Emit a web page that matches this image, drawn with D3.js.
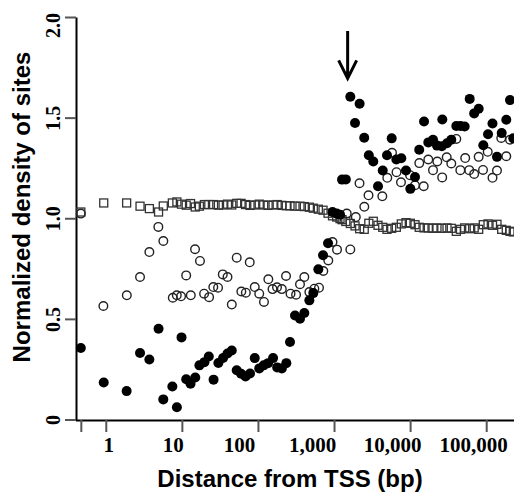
<!DOCTYPE html>
<html>
<head>
<meta charset="utf-8">
<script src="https://cdn.jsdelivr.net/npm/d3@7"></script>
<style>
  body { margin: 0; background: #fff; }
  svg { display: block; }
</style>
</head>
<body>
<script>
var svgWidth = 514;
var svgHeight = 492;

// Filled circles (distance in bp, normalized density)
var filledDist = [0.47, 0.94, 1.88, 2.82, 3.74, 4.94, 5.7, 7.5, 8.6, 9.9,
  11.4, 13, 15, 17, 19.8, 22.6, 26.1, 30.2, 34.8, 39.8,
  45.3, 52.6, 60, 68.7, 78.7, 90.8, 104, 119, 136, 158,
  179, 206, 236, 264, 307, 357, 407, 474, 534, 622,
  717, 834, 955, 1084, 1199, 1274, 1429, 1637, 2169, 1888,
  2494, 2865, 3281, 3785, 4365, 4970, 5728, 6589, 7660, 8832,
  10066, 11595, 13174, 15240, 17350, 20000, 22550, 26100, 26500, 30550,
  34770, 40460, 45920, 52120, 60680, 69520, 79660, 91620, 105700, 121000,
  138600, 159900, 183700, 205500, 227000];
var filledVal = [0.355, 0.184, 0.141, 0.33, 0.298, 0.451, 0.10, 0.164, 0.061, 0.408,
  0.20, 0.178, 0.209, 0.269, 0.285, 0.313, 0.198, 0.281, 0.306, 0.328,
  0.343, 0.245, 0.227, 0.214, 0.229, 0.305, 0.254, 0.269, 0.28, 0.305,
  0.259, 0.254, 0.28, 0.385, 0.517, 0.501, 0.529, 0.592, 0.628, 0.746,
  0.816, 0.876, 1.031, 1.023, 1.018, 1.192, 1.193, 1.604, 1.569, 1.473,
  1.40, 1.313, 1.282, 1.159, 1.237, 1.313, 1.397, 1.292, 1.298, 1.237,
  1.146, 1.205, 1.34, 1.481, 1.377, 1.39, 1.361, 1.358, 1.491, 1.373,
  1.39, 1.458, 1.458, 1.456, 1.593, 1.521, 1.544, 1.363, 1.417, 1.471,
  1.305, 1.423, 1.489, 1.587, 1.397];

// Open circles
var openDist = [0.47, 0.93, 1.89, 2.82, 3.74, 4.91, 5.71, 7.6, 8.57, 9.76,
  11.4, 13.1, 14.9, 17.3, 19.6, 22.8, 25.9, 29.9, 34.5, 39.8,
  45.3, 52.6, 60.5, 69.3, 78, 90.8, 104, 120, 137, 155.5,
  178, 206, 234, 268, 317, 357, 407, 474, 551, 635,
  723, 841, 955, 1095, 1469, 1637, 1933, 2163, 2500, 2839,
  4313, 5012, 5781, 6627, 7586, 9977, 11590, 13210, 15090, 17340,
  20000, 22770, 26400, 30270, 34770, 40460, 45710, 52970, 59840, 69520,
  79660, 90780, 104700, 121000, 138600, 157800, 183700, 205500];
var openVal = [1.023, 0.564, 0.617, 0.708, 0.832, 0.957, 0.887, 0.605, 0.617, 0.612,
  0.716, 0.617, 0.846, 0.788, 0.625, 0.608, 0.658, 0.655, 0.721, 0.708,
  0.571, 0.804, 0.636, 0.630, 0.781, 0.658, 0.625, 0.584, 0.697, 0.648,
  0.657, 0.648, 0.713, 0.625, 0.620, 0.672, 0.708, 0.633, 0.650, 0.655,
  0.738, 0.79, 0.882, 0.844, 1.023, 0.845, 1.006, 1.174, 1.057, 1.114,
  1.109, 1.201, 1.325, 1.229, 1.179, 1.214, 1.164, 1.274, 1.159, 1.292,
  1.239, 1.282, 1.203, 1.303, 1.272, 1.394, 1.239, 1.299, 1.239, 1.22,
  1.305, 1.24, 1.33, 1.201, 1.237, 1.399, 1.308, 1.39];

// Open squares
var sqDist = [0.47, 0.94, 1.88, 2.82, 3.74, 4.94, 5.7, 7.5, 8.6, 9.9,
  11.4, 13, 15, 17, 19.8, 22.6, 26.1, 30.2, 34.8, 39.8,
  45.3, 52.6, 60, 68.7, 78.7, 90.8, 104, 119, 136, 158,
  179, 206, 236, 264, 307, 357, 407, 474, 534, 622,
  717, 834, 955, 1084, 1199, 1274, 1429, 1637, 1888, 2169,
  2494, 2865, 3281, 3785, 4365, 4970, 5728, 6589, 7660, 8832,
  10066, 11595, 13174, 15240, 17350, 20000, 22550, 26100, 30550, 34770,
  40460, 45920, 52120, 60680, 69520, 79660, 91620, 105700, 121000, 138600,
  159900, 183700, 205500, 227000];
var sqVal = [1.031, 1.076, 1.076, 1.06, 1.048, 1.031, 1.061, 1.076, 1.081, 1.07,
  1.065, 1.073, 1.056, 1.06, 1.068, 1.068, 1.068, 1.065, 1.066, 1.07,
  1.066, 1.074, 1.074, 1.068, 1.064, 1.066, 1.07, 1.066, 1.064, 1.066,
  1.068, 1.064, 1.062, 1.062, 1.06, 1.06, 1.058, 1.055, 1.05, 1.045,
  1.04, 1.025, 1.012, 1.006, 0.998, 0.993, 0.984, 0.974, 0.962, 0.948,
  0.945, 0.975, 0.985, 0.965, 0.955, 0.945, 0.95, 0.955, 0.972, 0.978,
  0.975, 0.968, 0.955, 0.952, 0.952, 0.95, 0.952, 0.95, 0.952, 0.95,
  0.935, 0.945, 0.952, 0.948, 0.952, 0.945, 0.968, 0.972, 0.965, 0.97,
  0.945, 0.94, 0.935, 0.932];

var xTickValues = [0.47, 1, 10, 100, 1000, 10000, 100000];
var xTickLabels = ["", "1", "10", "100", "1,000", "10,000", "100,000"];
var yTickValues = [0, 0.5, 1, 1.5, 2];
var yTickLabels = ["0", "0.5", "1.0", "1.5", "2.0"];

// the original labels sit a little left of their ticks
var xLabelShift = [0, 2.5, -9, -19, -22, -18, -13];

var arrowAt = 1510;

var svg = d3.select("body")
  .append("svg")
  .attr("width", svgWidth)
  .attr("height", svgHeight);

var x = d3.scaleLog().domain([0.4, 300000]).range([75.5, 522.5]);
var y = d3.scaleLinear().domain([0, 2]).range([419.5, 17]);

// axes
var xAxis = svg.append("g")
  .attr("transform", "translate(0,420)")
  .call(d3.axisBottom(x)
    .tickValues(xTickValues)
    .tickFormat(function(d, i) { return xTickLabels[i]; })
    .tickSize(12)
    .tickSizeOuter(0));

xAxis.select(".domain").attr("stroke", "#000").attr("stroke-width", 2);
xAxis.selectAll(".tick line").attr("stroke", "#555").attr("stroke-width", 2);
xAxis.selectAll(".tick text")
  .attr("x", function(d, i) { return xLabelShift[i]; })
  .attr("y", 32)
  .attr("dy", null)
  .attr("fill", "#000")
  .style("font-family", "'Liberation Serif', 'Times New Roman', serif")
  .style("font-weight", "bold")
  .style("font-size", "21px");

var yAxis = svg.append("g")
  .attr("transform", "translate(76,0)")
  .call(d3.axisLeft(y)
    .tickValues(yTickValues)
    .tickFormat(function(d, i) { return yTickLabels[i]; })
    .tickSize(11)
    .tickSizeOuter(0));

yAxis.select(".domain").attr("stroke", "#000").attr("stroke-width", 2);
yAxis.selectAll(".tick line").attr("stroke", "#555").attr("stroke-width", 2);
yAxis.selectAll(".tick text")
  .attr("x", null)
  .attr("dy", null)
  .attr("text-anchor", "middle")
  .attr("transform", function(d) { return "translate(-16," + (d === 2 ? 8 : 0) + ") rotate(-90)"; })
  .attr("fill", "#000")
  .style("font-family", "'Liberation Serif', 'Times New Roman', serif")
  .style("font-weight", "bold")
  .style("font-size", "20px");

// squares
svg.append("g")
  .selectAll("rect")
  .data(sqDist)
  .enter()
  .append("rect")
  .attr("x", function(d) { return x(d) - 4; })
  .attr("y", function(d, i) { return y(sqVal[i]) - 4; })
  .attr("width", 8)
  .attr("height", 8)
  .attr("fill", "none")
  .attr("stroke", "#333")
  .attr("stroke-width", 1.3);

// open circles
svg.append("g")
  .selectAll("circle")
  .data(openDist)
  .enter()
  .append("circle")
  .attr("cx", function(d) { return x(d); })
  .attr("cy", function(d, i) { return y(openVal[i]); })
  .attr("r", 4.3)
  .attr("fill", "none")
  .attr("stroke", "#222")
  .attr("stroke-width", 1.4);

// filled circles
svg.append("g")
  .selectAll("circle")
  .data(filledDist)
  .enter()
  .append("circle")
  .attr("cx", function(d) { return x(d); })
  .attr("cy", function(d, i) { return y(filledVal[i]); })
  .attr("r", 5)
  .attr("fill", "#000");

// arrow
var ax = x(arrowAt);
var tipY = y(1.695);
svg.append("path")
  .attr("d", "M" + ax + "," + y(1.93) + "V" + tipY +
    "M" + (ax - 9) + "," + (tipY - 18) + "L" + ax + "," + tipY + "L" + (ax + 9) + "," + (tipY - 18))
  .attr("fill", "none")
  .attr("stroke", "#000")
  .attr("stroke-width", 3);

// axis titles
svg.append("text")
  .attr("transform", "translate(30,207) rotate(-90)")
  .attr("text-anchor", "middle")
  .style("font-family", "'Liberation Sans', Arial, sans-serif")
  .style("font-weight", "bold")
  .style("font-size", "24px")
  .text("Normalized density of sites");

svg.append("text")
  .attr("x", 290)
  .attr("y", 487)
  .attr("text-anchor", "middle")
  .style("font-family", "'Liberation Sans', Arial, sans-serif")
  .style("font-weight", "bold")
  .style("font-size", "24px")
  .text("Distance from TSS (bp)");
</script>
</body>
</html>
